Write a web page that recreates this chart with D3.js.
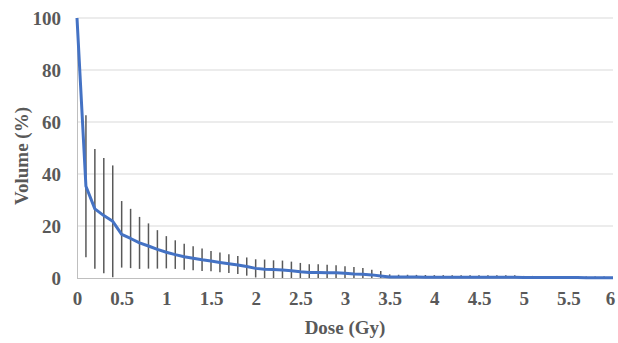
<!DOCTYPE html>
<meta charset="utf-8">
<script src="https://d3js.org/d3.v7.min.js"></script>
<style>
body { margin: 0; background: #fff; }
text { font-family: "Liberation Serif", "Times New Roman", serif; font-weight: bold; fill: #595959; }
</style>
<div id="my_dataviz"></div>
<script>

// dose points (Gy)
var dose = [0, 0.1, 0.2, 0.3, 0.4, 0.5, 0.6, 0.7, 0.8, 0.9,
            1, 1.1, 1.2, 1.3, 1.4, 1.5, 1.6, 1.7, 1.8, 1.9,
            2, 2.1, 2.2, 2.3, 2.4, 2.5, 2.6, 2.7, 2.8, 2.9,
            3, 3.1, 3.2, 3.3, 3.4, 3.5, 3.6, 3.7, 3.8, 3.9,
            4, 4.1, 4.2, 4.3, 4.4, 4.5, 4.6, 4.7, 4.8, 4.9,
            5, 5.1, 5.2, 5.3, 5.4, 5.5, 5.6, 5.7, 5.8, 5.9, 6];

// mean volume (%)
var volume = [100, 35.3, 26.6, 24.0, 21.8, 16.8, 15.2, 13.5, 12.3, 11.0,
              9.9, 9.0, 8.2, 7.6, 7.0, 6.5, 6.0, 5.5, 5.0, 4.4,
              3.7, 3.4, 3.3, 3.1, 2.8, 2.4, 2.1, 2.1, 2.0, 2.0,
              1.8, 1.5, 1.4, 1.2, 0.8, 0.4, 0.35, 0.35, 0.35, 0.3,
              0.3, 0.3, 0.3, 0.3, 0.3, 0.3, 0.3, 0.3, 0.3, 0.3,
              0.2, 0.2, 0.2, 0.2, 0.15, 0.15, 0.15, 0.1, 0.1, 0.1, 0.1];

// standard deviation (error bars)
var sd = [0, 27.3, 23.0, 22.2, 21.5, 12.8, 11.4, 10.0, 8.7, 7.4,
          6.2, 5.5, 5.0, 4.6, 4.3, 3.9, 3.8, 3.6, 3.5, 3.5,
          3.5, 3.7, 3.5, 3.6, 3.5, 3.4, 3.2, 3.2, 3.1, 2.9,
          2.7, 2.7, 2.4, 2.0, 1.9, 1.0, 0.9, 0.9, 0.85, 0.85,
          0.8, 0.8, 0.8, 0.8, 0.75, 0.75, 0.75, 0.75, 0.75, 0.75,
          0.6, 0.6, 0.55, 0.55, 0.55, 0.5, 0.5, 0.5, 0.5, 0.5, 0];

var xTicks = [0, 0.5, 1, 1.5, 2, 2.5, 3, 3.5, 4, 4.5, 5, 5.5, 6];
var yTicks = [0, 20, 40, 60, 80, 100];

var data = dose.map(function(d, i) { return {x: d, y: volume[i], sd: sd[i]}; });

var margin = {top: 18, right: 5, bottom: 65, left: 77},
    width = 618 - margin.left - margin.right,
    height = 343 - margin.top - margin.bottom;

var svg = d3.select("#my_dataviz")
  .append("svg")
    .attr("width", 618)
    .attr("height", 343)
  .append("g")
    .attr("transform", "translate(" + margin.left + "," + margin.top + ")");

var x = d3.scaleLinear().domain([0, 6]).range([0, 536]);
var y = d3.scaleLinear().domain([0, 100]).range([height, 0]);

// gridlines
svg.append("g")
  .selectAll("line")
  .data(yTicks.filter(function(d) { return d > 0; }))
  .enter().append("line")
    .attr("x1", 0).attr("x2", width)
    .attr("y1", function(d) { return y(d); })
    .attr("y2", function(d) { return y(d); })
    .attr("stroke", "#d9d9d9").attr("stroke-width", 1);

// axes
var yAxis = svg.append("g").call(d3.axisLeft(y).tickValues(yTicks).tickSize(0).tickPadding(16));
yAxis.select(".domain").attr("stroke", "#bfbfbf");
var xAxis = svg.append("g")
  .attr("transform", "translate(0," + height + ")")
  .call(d3.axisBottom(x).tickValues(xTicks).tickFormat(d3.format("")).tickSize(0).tickPadding(14));
xAxis.select(".domain").attr("stroke", "#bfbfbf").attr("d", "M0,0.5H" + width);
svg.selectAll(".tick text")
  .style("font-family", "'Liberation Serif', serif")
  .style("font-weight", "bold")
  .style("font-size", "19px")
  .attr("fill", "#595959");
xAxis.selectAll(".tick text").filter(function(d) { return d === 6; }).attr("dx", "-3");

// error bars
svg.append("g")
  .selectAll("line")
  .data(data.filter(function(d) { return d.sd > 0; }))
  .enter().append("line")
    .attr("x1", function(d) { return x(d.x); })
    .attr("x2", function(d) { return x(d.x); })
    .attr("y1", function(d) { return y(Math.max(0, d.y - d.sd)); })
    .attr("y2", function(d) { return y(d.y + d.sd); })
    .attr("stroke", "#595959").attr("stroke-width", 1.5);

// mean line
svg.append("path")
  .datum(data)
  .attr("fill", "none")
  .attr("stroke", "#4472c4")
  .attr("stroke-width", 3)
  .attr("stroke-linejoin", "round")
  .attr("d", d3.line()
    .x(function(d) { return x(d.x); })
    .y(function(d) { return y(d.y); }));

// axis titles
svg.append("text")
  .attr("x", 268).attr("y", height + 56)
  .attr("text-anchor", "middle")
  .style("font-size", "19px")
  .text("Dose (Gy)");

svg.append("text")
  .attr("transform", "translate(-49," + (height / 2 + 8) + ") rotate(-90)")
  .attr("text-anchor", "middle")
  .style("font-size", "19px")
  .text("Volume (%)");

</script>
